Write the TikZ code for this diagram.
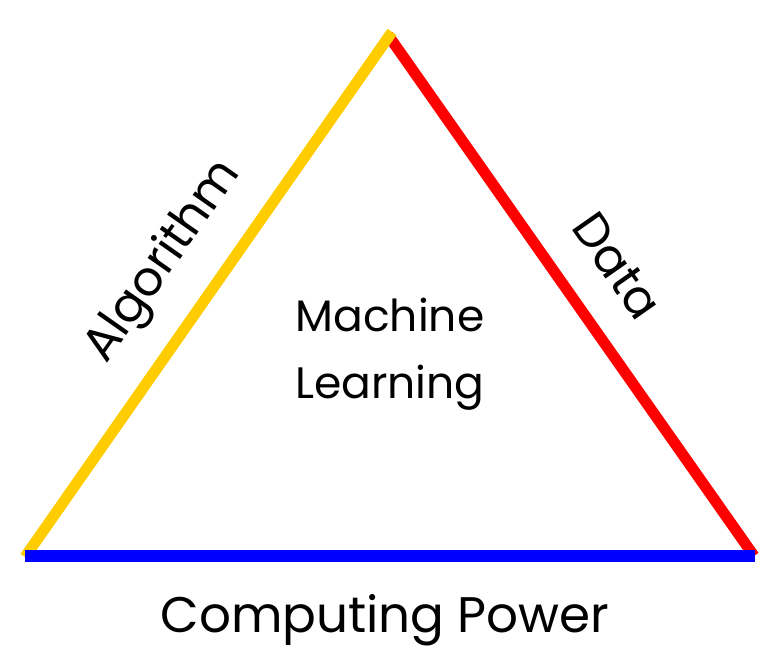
\documentclass[tikz,border=0pt]{standalone}
\usepackage{fontspec}
\setmainfont{Poppins}
\usepackage{tikz}
\usetikzlibrary{positioning,calc}
\definecolor{algoyellow}{HTML}{FFCC00}
\definecolor{datared}{HTML}{FF0000}
\definecolor{powerblue}{HTML}{0000FF}
\tikzset{
  side/.style={line width=11pt,line cap=butt},
  lbl/.style={inner sep=0pt,font=\fontsize{44}{67}\selectfont},
  biglbl/.style={lbl,font=\fontsize{48}{67}\selectfont}
}

\begin{document}
\begin{tikzpicture}[x=1pt,y=1pt]
        \useasboundingbox (0,0) rectangle (780,668);
        % corners of the triangle
        \coordinate (apexR) at (388,633);
        \coordinate (apexY) at (392,636);
        \coordinate (left) at (25,111);
        \coordinate (right) at (754,112);
        \coordinate (bl) at (25,112);
        \coordinate (br) at (755,112);
        \draw[side,datared] (apexR) -- (right);
        \draw[side,algoyellow] (left) -- (apexY);
        \draw[side,powerblue,line width=12.5pt] (bl) -- (br);
        % labels
        \node[biglbl,rotate=55] (algo) at (164,406) {Algorithm};
        \node[biglbl,rotate=-55] (data) at (617,402) {Data};
        \node[lbl,anchor=base] (mach) at (390,336) {Machine};
        \node[lbl,anchor=base] (learn) at (390,269) {Learning};
        \node[lbl,anchor=base,font=\fontsize{50}{67}\selectfont] (power) at (385,35) {Computing Power};
      \end{tikzpicture}
\end{document}
